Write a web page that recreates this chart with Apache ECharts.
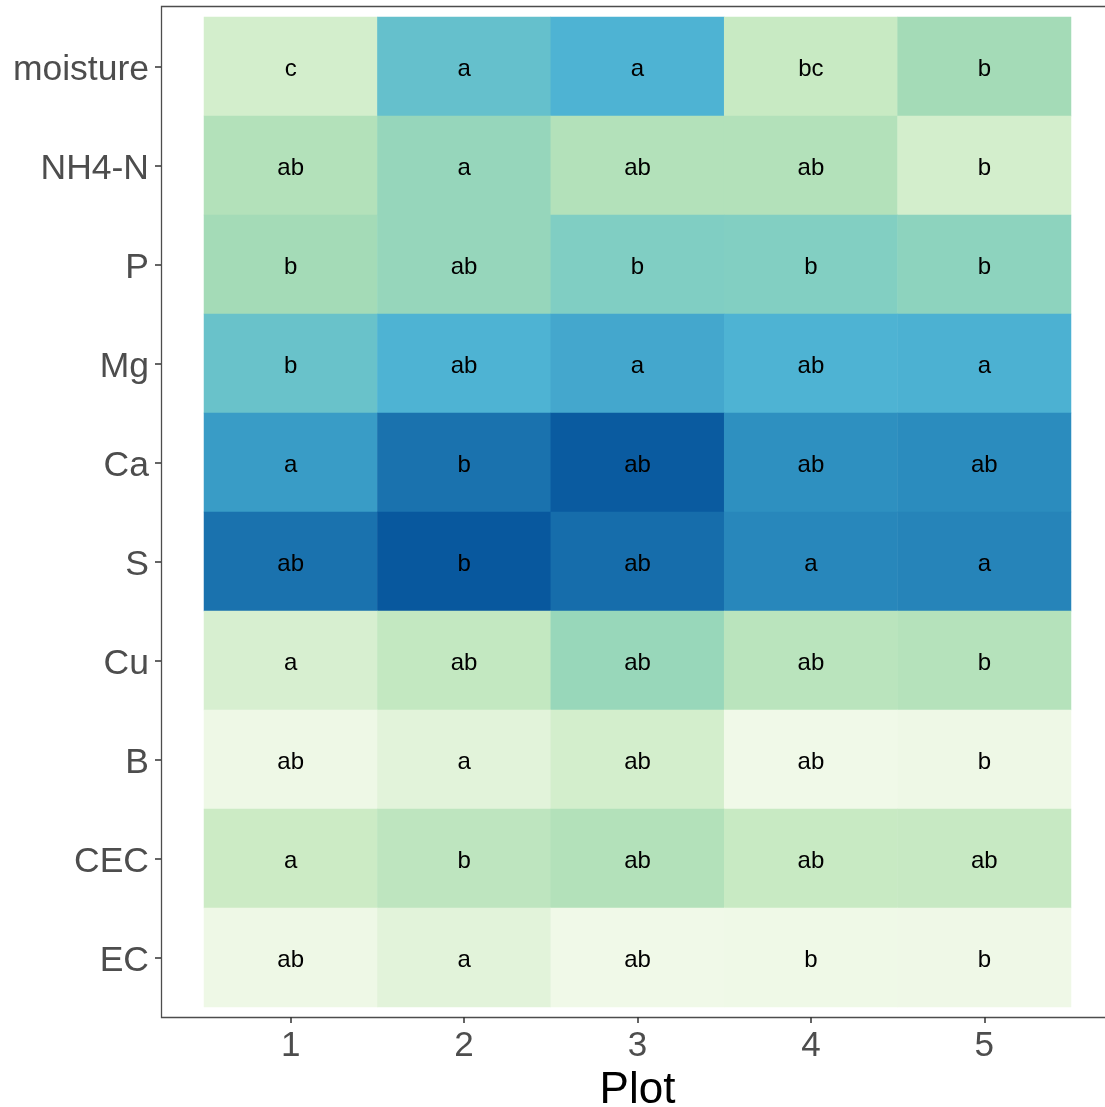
<!DOCTYPE html>
<html>
<head>
<meta charset="utf-8">
<script src="https://cdn.jsdelivr.net/npm/echarts@6/dist/echarts.min.js"></script>
<style>
  html, body { margin: 0; padding: 0; background: #ffffff; }
  #chart { width: 1105px; height: 1107px; }
</style>
</head>
<body>
<div id="chart"></div>
<script>
// Plots along the x axis
const plots = ['1', '2', '3', '4', '5'];
// Soil properties, listed top to bottom
const variables = ['moisture', 'NH4-N', 'P', 'Mg', 'Ca', 'S', 'Cu', 'B', 'CEC', 'EC'];

// Relative level of each property per plot (0 = lowest, 6 = highest)
const moisture = [0.8, 3.5, 4.0, 1.1, 2.1];
const nh4n     = [1.7, 2.4, 1.7, 1.7, 0.8];
const phosph   = [2.1, 2.4, 2.9, 2.85, 2.6];
const magnes   = [3.4, 4.0, 4.3, 4.0, 4.05];
const calcium  = [4.6, 5.5, 5.95, 4.9, 5.0];
const sulfur   = [5.5, 6.0, 5.6, 5.1, 5.15];
const copper   = [0.7, 1.25, 2.35, 1.5, 1.65];
const boron    = [0.05, 0.4, 0.8, 0.0, 0.05];
const cec      = [1.0, 1.4, 1.7, 1.1, 1.15];
const ec       = [0.05, 0.4, 0.0, 0.02, 0.04];
const levels = [moisture, nh4n, phosph, magnes, calcium, sulfur, copper, boron, cec, ec];

// Significance groups per plot
const moistureSig = ['c', 'a', 'a', 'bc', 'b'];
const nh4nSig     = ['ab', 'a', 'ab', 'ab', 'b'];
const phosphSig   = ['b', 'ab', 'b', 'b', 'b'];
const magnesSig   = ['b', 'ab', 'a', 'ab', 'a'];
const calciumSig  = ['a', 'b', 'ab', 'ab', 'ab'];
const sulfurSig   = ['ab', 'b', 'ab', 'a', 'a'];
const copperSig   = ['a', 'ab', 'ab', 'ab', 'b'];
const boronSig    = ['ab', 'a', 'ab', 'ab', 'b'];
const cecSig      = ['a', 'b', 'ab', 'ab', 'ab'];
const ecSig       = ['ab', 'a', 'ab', 'b', 'b'];
const groups = [moistureSig, nh4nSig, phosphSig, magnesSig, calciumSig, sulfurSig, copperSig, boronSig, cecSig, ecSig];

const cells = [];
variables.forEach(function (v, r) {
  plots.forEach(function (p, c) {
    cells.push({ value: [c, r, levels[r][c]], sig: groups[r][c] });
  });
});

const FONT = '"Liberation Sans", Arial, sans-serif';
const AXIS_COLOR = '#4d4d4d';
const chart = echarts.init(document.getElementById('chart'), null, { renderer: 'canvas' });

chart.setOption({
  backgroundColor: '#ffffff',
  animation: false,
  grid: { left: 204, top: 17, width: 867, height: 990, containLabel: false, outerBoundsMode: 'none' },
  xAxis: {
    type: 'category',
    data: plots,
    offset: 10,
    name: 'Plot',
    nameLocation: 'middle',
    nameGap: 49,
    nameTextStyle: { fontFamily: FONT, fontSize: 44, color: '#000000' },
    axisLine: { show: false },
    axisTick: { show: true, alignWithLabel: true, length: 6, lineStyle: { color: '#333333', width: 1.5 } },
    axisLabel: { fontFamily: FONT, fontSize: 35, color: AXIS_COLOR, margin: 12 },
    splitLine: { show: false }
  },
  yAxis: {
    type: 'category',
    data: variables,
    inverse: true,
    offset: 43,
    axisLine: { show: false },
    axisTick: { show: true, alignWithLabel: true, length: 6, lineStyle: { color: '#333333', width: 1.5 } },
    axisLabel: {
      margin: 12,
      formatter: function (v) { return '{t|' + v + '}'; },
      rich: {
        t: { fontFamily: FONT, fontSize: 35.5, color: AXIS_COLOR, padding: [8, 0, 0, 0] }
      }
    },
    splitLine: { show: false }
  },
  visualMap: {
    show: false,
    type: 'continuous',
    min: 0,
    max: 6,
    dimension: 2,
    inRange: { color: ['#f0f9e8', '#ccebc5', '#a8ddb5', '#7bccc4', '#4eb3d3', '#2b8cbe', '#08589e'] }
  },
  // panel frame: left, bottom and top edges
  graphic: [
    { type: 'polyline', silent: true,
      shape: { points: [[1105, 6.5], [161.5, 6.5], [161.5, 1017.5], [1105, 1017.5]] },
      style: { stroke: AXIS_COLOR, lineWidth: 1.3, fill: null } }
  ],
  series: [{
    type: 'heatmap',
    data: cells,
    itemStyle: { borderWidth: 0 },
    label: {
      show: true,
      fontFamily: FONT,
      fontSize: 24,
      color: '#000000',
      offset: [0, 3],
      formatter: function (p) { return p.data.sig; }
    },
    emphasis: { disabled: true }
  }]
});
</script>
</body>
</html>
